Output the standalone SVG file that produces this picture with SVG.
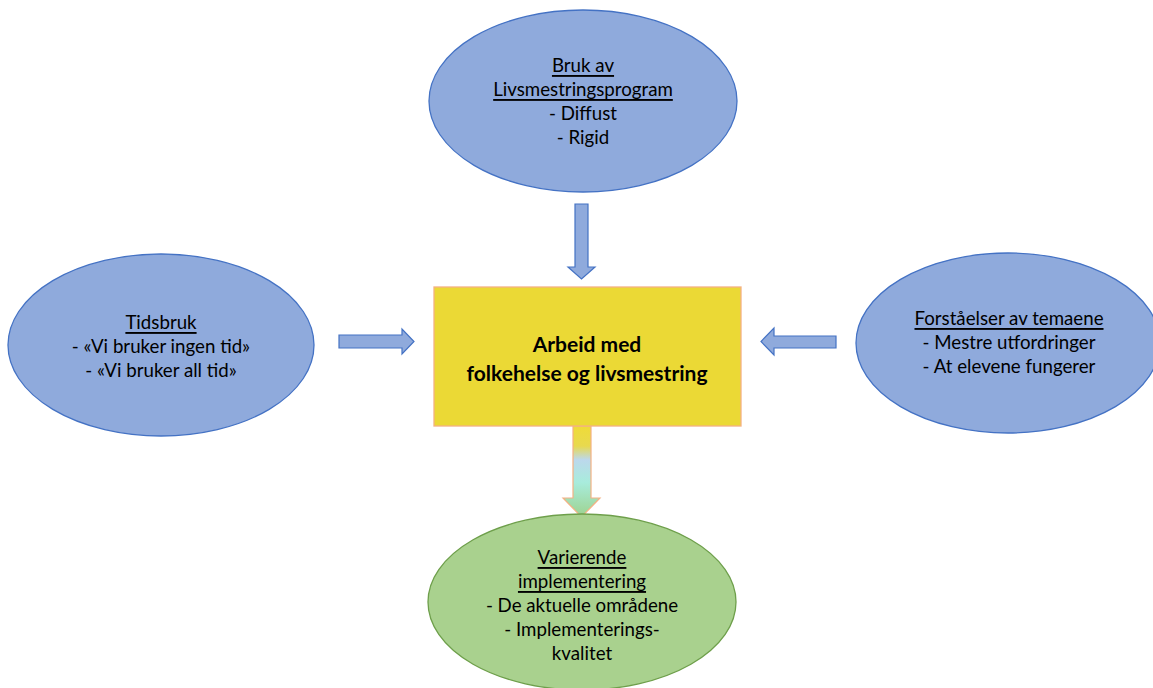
<svg xmlns="http://www.w3.org/2000/svg" width="1153" height="688" viewBox="0 0 1153 688">
<style>
.t{font-family:Lato,"Open Sans","Liberation Sans",sans-serif;font-size:18.7px;fill:#000;text-anchor:middle;dominant-baseline:central}
.b{font-weight:bold;font-size:21px}
.u{text-decoration:underline}
.blue{fill:#8FAADC;stroke:#4472C4;stroke-width:1.3}
.green{fill:#A9D18E;stroke:#6E9F4B;stroke-width:1.3}
.arr{fill:#8FAADC;stroke:#4472C4;stroke-width:1.2}
</style>
<defs>
<linearGradient id="g" x1="0" y1="0" x2="0" y2="1">
<stop offset="0" stop-color="#EFDB38"/>
<stop offset="0.22" stop-color="#E8D94E"/>
<stop offset="0.37" stop-color="#BCD8EC"/>
<stop offset="0.62" stop-color="#A8ECDC"/>
<stop offset="1" stop-color="#9DD28E"/>
</linearGradient>
</defs>
<rect width="1153" height="688" fill="#fff"/>
<g id="connectors">
<polygon class="arr" points="575,204 588,204 588,267 595,267 581.5,279 568,267 575,267"/>
<polygon class="arr" points="339,335 402,335 402,329 414,341.5 402,354 402,348 339,348"/>
<polygon class="arr" points="836,336 774,336 774,328 761,341.5 774,355 774,348 836,348"/>
<polygon fill="url(#g)" stroke="#F4B183" stroke-width="1.2" points="573,426 591,426 591,498 600,498 581.5,517 563,498 573,498"/>
</g>
<g id="top">
<ellipse class="blue" cx="583" cy="101" rx="154" ry="91"/>
<text class="t"><tspan class="u" x="583" y="65">Bruk av</tspan><tspan class="u" x="583" y="89">Livsmestringsprogram</tspan><tspan x="583" y="113">- Diffust</tspan><tspan x="583" y="137">- Rigid</tspan></text>
</g>
<g id="left">
<ellipse class="blue" cx="161" cy="345" rx="153" ry="91"/>
<text class="t"><tspan class="u" x="161" y="322">Tidsbruk</tspan><tspan x="161" y="346">- «Vi bruker ingen tid»</tspan><tspan x="161" y="370">- «Vi bruker all tid»</tspan></text>
</g>
<g id="right">
<ellipse class="blue" cx="1008" cy="343" rx="152" ry="90"/>
<text class="t"><tspan class="u" x="1009" y="318">Forståelser av temaene</tspan><tspan x="1009" y="342">- Mestre utfordringer</tspan><tspan x="1009" y="366">- At elevene fungerer</tspan></text>
</g>
<g id="center">
<rect x="434" y="287" width="307" height="139" fill="#EBD935" stroke="#F4B183" stroke-width="1.3"/>
<text class="t b"><tspan x="587" y="343">Arbeid med</tspan><tspan x="587" y="372">folkehelse og livsmestring</tspan></text>
</g>
<g id="bottom">
<ellipse class="green" cx="582" cy="602" rx="154" ry="88"/>
<text class="t"><tspan class="u" x="582" y="557">Varierende</tspan><tspan class="u" x="582" y="581">implementering</tspan><tspan x="582" y="605">- De aktuelle områdene</tspan><tspan x="582" y="629">- Implementerings-</tspan><tspan x="582" y="653">kvalitet</tspan></text>
</g>
</svg>
